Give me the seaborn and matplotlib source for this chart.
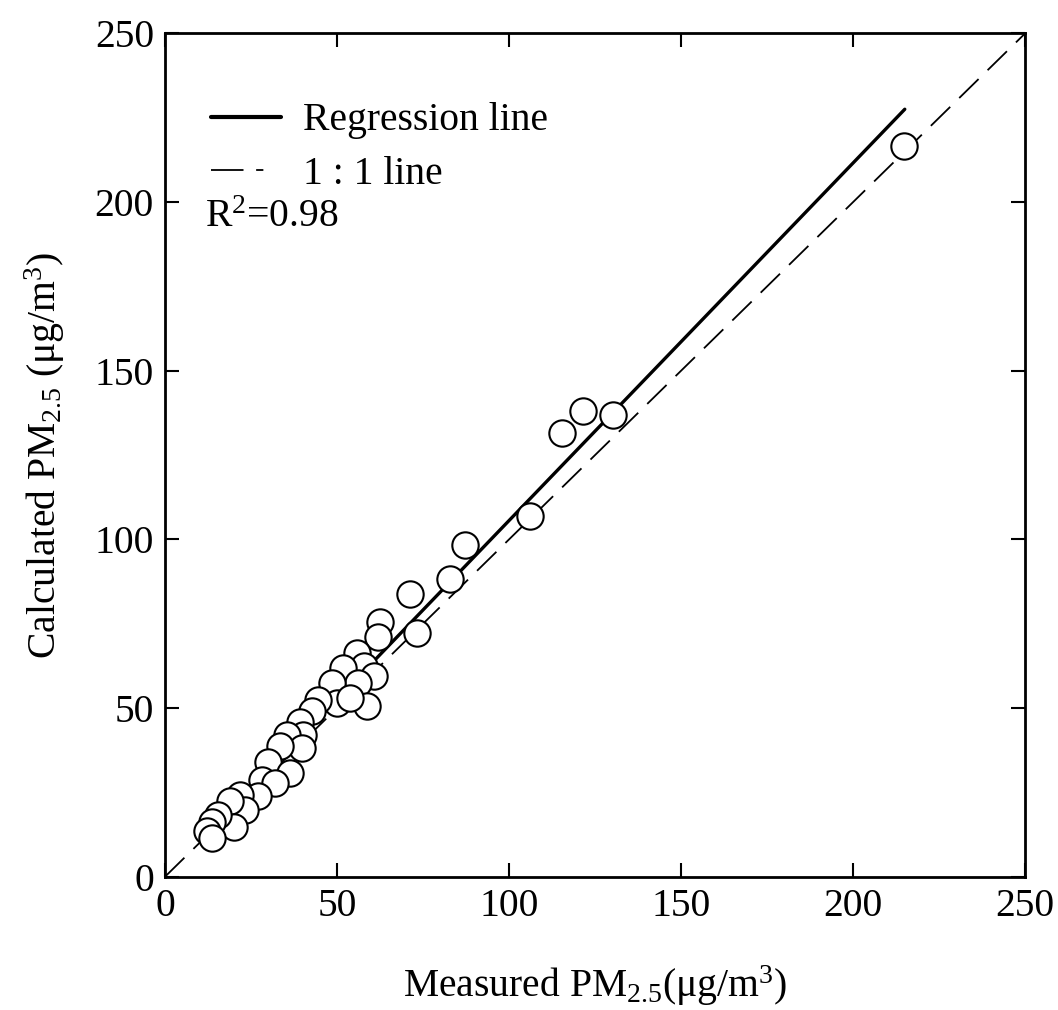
import matplotlib
matplotlib.use("Agg")
import matplotlib.pyplot as plt
import seaborn as sns
import pandas as pd
from matplotlib.lines import Line2D

measured = [214.8, 130.2, 121.5, 115.4, 106.0, 87.2, 82.8, 71.2, 73.3, 62.5, 62.0,
            55.7, 57.7, 60.6, 51.8, 56.2, 48.5, 58.6, 49.9, 53.8, 44.6, 42.6, 39.2,
            40.2, 35.4, 39.7, 33.4, 30.0, 36.3, 28.1, 32.0, 27.1, 21.8, 23.3, 18.9,
            19.9, 15.5, 13.6, 12.1, 13.6]
calculated = [216.7, 137.0, 138.0, 131.5, 107.0, 98.3, 88.2, 83.8, 72.2, 75.5, 71.0,
              66.3, 62.4, 59.4, 61.8, 57.4, 57.4, 50.5, 51.5, 52.9, 52.5, 49.0, 46.0,
              42.0, 42.0, 38.0, 38.6, 34.1, 30.7, 28.7, 27.7, 23.8, 24.2, 19.8, 22.3,
              14.8, 18.3, 16.3, 13.4, 11.4]
reg_x = [12.0, 215.0]
reg_y = [12.3, 227.5]
one_x = [0, 250]
one_y = [0, 250]
ticks = [0, 50, 100, 150, 200, 250]

sns.set_theme(style="ticks")
plt.rcParams['font.family'] = ['Liberation Serif', 'DejaVu Serif']
plt.rcParams['mathtext.fontset'] = 'custom'
plt.rcParams['mathtext.rm'] = 'Liberation Serif'
plt.rcParams['mathtext.it'] = 'Liberation Serif:italic'
plt.rcParams['text.color'] = 'black'
plt.rcParams['axes.labelcolor'] = 'black'
plt.rcParams['xtick.color'] = 'black'
plt.rcParams['ytick.color'] = 'black'

FS = 28.5

fig = plt.figure(figsize=(10.58, 10.10), dpi=100)
ax = fig.add_axes([0.156, 0.132, 0.813, 0.835])

df = pd.DataFrame({"m": measured, "c": calculated})
ax.plot(one_x, one_y, color="black", lw=1.3, dashes=(15, 7), zorder=1)
ax.plot(reg_x, reg_y, color="black", lw=2.4, zorder=2)
sns.scatterplot(data=df, x="m", y="c", ax=ax, s=360, marker="o",
                facecolor="white", edgecolor="black", linewidth=1.5, zorder=3)

ax.set_xlim(0, 250)
ax.set_ylim(0, 250)
ax.set_xticks(ticks)
ax.set_yticks(ticks)
ax.tick_params(direction="in", length=10, width=1.5, top=True, right=True,
               labelsize=FS, colors="black", pad=8)
for s in ax.spines.values():
    s.set_linewidth(2)
    s.set_color("black")

ax.set_xlabel("Measured PM$_{2.5}$(μg/m$^3$)", fontsize=FS, labelpad=28)
ax.set_ylabel("Calculated PM$_{2.5}$ (μg/m$^3$)", fontsize=FS, labelpad=20)

handles = [Line2D([], [], color="black", lw=3.0),
           Line2D([], [], color="black", lw=1.3, dashes=(18, 7, 4, 40))]
leg = ax.legend(handles, ["Regression line", "1 : 1 line"], loc="upper left",
                bbox_to_anchor=(0.054, 0.918), frameon=False, fontsize=FS,
                handlelength=1.75, handletextpad=0.55, labelspacing=0.42,
                borderaxespad=0, borderpad=0)
ax.text(0.046, 0.782, "R$^2$=0.98", transform=ax.transAxes, fontsize=FS,
        ha="left", va="center")

fig.savefig("out.png", dpi=100)
